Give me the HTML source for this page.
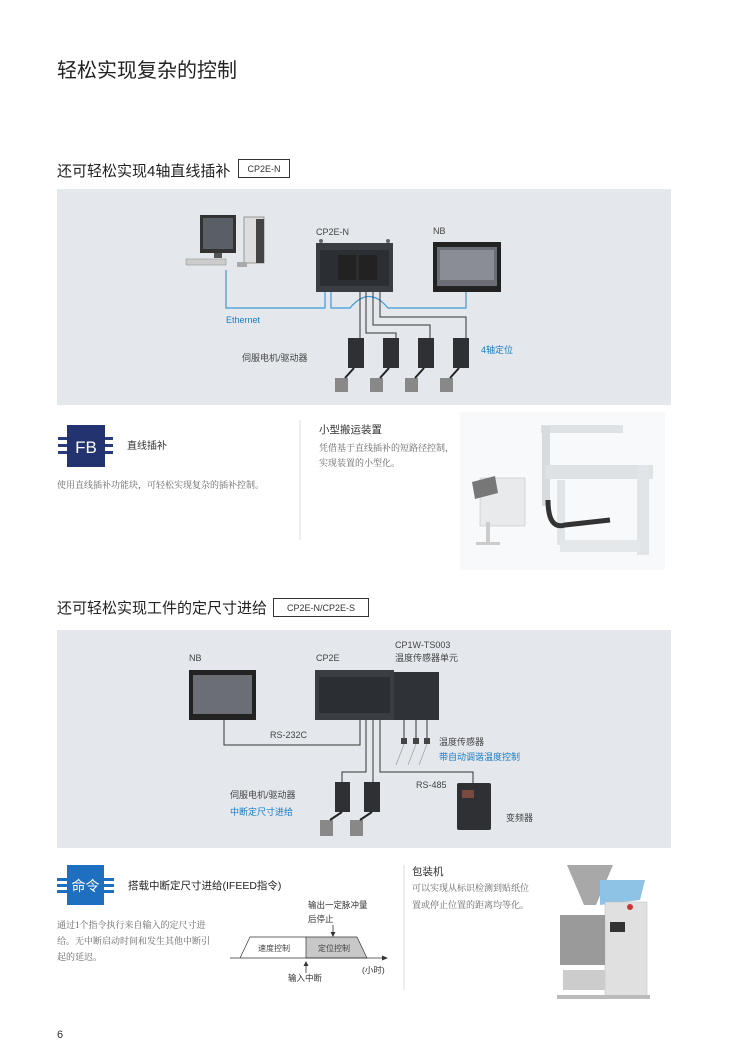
<!DOCTYPE html>
<html><head><meta charset="utf-8"><style>
html,body{margin:0;padding:0;background:#fff;}
svg{display:block;}
text{font-family:"Liberation Sans","Noto Sans CJK SC",sans-serif;}
.s{font-family:"Liberation Serif","Noto Serif CJK SC",serif;fill:#666;font-size:9px;}
.l{font-size:9px;fill:#444;}
.b{font-size:9px;fill:#1a7bc4;}
</style></head><body>
<svg width="750" height="1061" viewBox="0 0 750 1061" xmlns="http://www.w3.org/2000/svg">
<text x="57" y="77" font-size="20" fill="#222">轻松实现复杂的控制</text>

<!-- Section 1 -->
<text x="57" y="176" font-size="15" fill="#222">还可轻松实现4轴直线插补</text>
<rect x="238.5" y="159.5" width="51" height="18" fill="#fff" stroke="#333"/>
<text x="264" y="172" font-size="9" fill="#333" text-anchor="middle">CP2E-N</text>

<rect x="57" y="189" width="614" height="216" fill="#e4e8ec"/>
<!-- computer -->
<rect x="200" y="215" width="36" height="38" fill="#333"/>
<rect x="203" y="218" width="30" height="31" fill="#5a5f66"/>
<rect x="214" y="253" width="8" height="5" fill="#555"/>
<rect x="244" y="217" width="20" height="46" fill="#ddd" stroke="#777" stroke-width="0.7"/>
<rect x="256" y="219" width="8" height="44" fill="#444"/>
<rect x="186" y="259" width="40" height="6" fill="#ccc" stroke="#888" stroke-width="0.5"/>
<rect x="237" y="262" width="10" height="5" fill="#aaa"/>
<!-- PLC -->
<rect x="316" y="243" width="77" height="49" fill="#3a3d42"/>
<rect x="320" y="250" width="69" height="36" fill="#2b2e32"/>
<rect x="338" y="255" width="18" height="25" fill="#222"/>
<rect x="359" y="255" width="18" height="25" fill="#222"/>
<circle cx="321" cy="241" r="2" fill="#666"/><circle cx="388" cy="241" r="2" fill="#666"/>
<text x="316" y="235" class="l">CP2E-N</text>
<!-- NB -->
<rect x="433" y="242" width="68" height="50" fill="#222"/>
<rect x="437" y="247" width="60" height="39" fill="#6b6f75"/>
<rect x="440" y="250" width="54" height="30" fill="#8a8e94"/>
<text x="433" y="234" class="l">NB</text>
<!-- ethernet -->
<g fill="none" stroke="#3c9ad6" stroke-width="1.2">
<path d="M226 270 V308 H325 V292"/>
<path d="M331 292 V308 H350 Q369 285 388 308 H466 V292"/>
</g>
<text x="226" y="323" class="b">Ethernet</text>
<!-- black lines -->
<g fill="none" stroke="#333" stroke-width="1">
<path d="M360 292 V340"/>
<path d="M366 292 V333 H396 V340"/>
<path d="M373 292 V325 H430 V340"/>
<path d="M380 292 V317 H466 V340"/>
</g>
<g fill="#2e3034">
<rect x="348" y="338" width="16" height="30"/><rect x="383" y="338" width="16" height="30"/>
<rect x="418" y="338" width="16" height="30"/><rect x="453" y="338" width="16" height="30"/>
</g>
<g fill="#888">
<rect x="335" y="378" width="13" height="14"/><rect x="370" y="378" width="13" height="14"/>
<rect x="405" y="378" width="13" height="14"/><rect x="440" y="378" width="13" height="14"/>
</g>
<g stroke="#222" stroke-width="2" fill="none">
<path d="M354 368 L345 378"/><path d="M389 368 L380 378"/><path d="M424 368 L415 378"/><path d="M459 368 L450 378"/>
</g>
<text x="242" y="361" class="l">伺服电机/驱动器</text>
<text x="481" y="353" class="b">4轴定位</text>

<!-- FB block -->
<rect x="58" y="437" width="9" height="3" fill="#2a3b7a"/><rect x="58" y="444" width="9" height="3" fill="#2a3b7a"/><rect x="58" y="451" width="9" height="3" fill="#2a3b7a"/>
<rect x="105" y="437" width="8" height="3" fill="#2a3b7a"/><rect x="105" y="444" width="8" height="3" fill="#2a3b7a"/><rect x="105" y="451" width="8" height="3" fill="#2a3b7a"/>
<rect x="67" y="425" width="38" height="42" fill="#23336f"/>
<text x="86" y="453" font-size="17" fill="#fff" text-anchor="middle">FB</text>
<text x="127" y="449" font-size="10" fill="#333">直线插补</text>
<text x="57" y="488" class="s">使用直线插补功能块，可轻松实现复杂的插补控制。</text>
<line x1="300" y1="420" x2="300" y2="540" stroke="#ddd"/>
<text x="319" y="433" font-size="10.5" fill="#333">小型搬运装置</text>
<text x="319" y="451" class="s">凭借基于直线插补的短路径控制，</text>
<text x="319" y="466" class="s">实现装置的小型化。</text>
<!-- robot -->
<rect x="460" y="412" width="205" height="158" fill="#f8f9fa"/>
<rect x="541" y="425" width="82" height="8" fill="#dfe2e5"/>
<rect x="542" y="426" width="8" height="80" fill="#d8dbde"/>
<rect x="545" y="465" width="108" height="14" fill="#dfe2e5"/>
<rect x="637" y="465" width="12" height="90" fill="#e2e5e8"/>
<rect x="557" y="480" width="8" height="65" fill="#e2e5e8"/>
<rect x="560" y="540" width="80" height="12" fill="#e5e8eb"/>
<path d="M548 500 Q548 530 565 525 L610 520" stroke="#333" stroke-width="5" fill="none"/>
<rect x="480" y="478" width="45" height="48" fill="#e8eaec" stroke="#bbb" stroke-width="0.5"/>
<polygon points="472,482 495,476 498,493 475,499" fill="#777"/>
<rect x="486" y="522" width="4" height="22" fill="#ccc"/>
<rect x="476" y="542" width="24" height="3" fill="#ccc"/>

<!-- Section 2 -->
<text x="57" y="613" font-size="15" fill="#222">还可轻松实现工件的定尺寸进给</text>
<rect x="273.5" y="598.5" width="95" height="18" fill="#fff" stroke="#333"/>
<text x="321" y="611" font-size="9" fill="#333" text-anchor="middle">CP2E-N/CP2E-S</text>

<rect x="57" y="630" width="614" height="218" fill="#e4e8ec"/>
<text x="189" y="661" class="l">NB</text>
<text x="316" y="661" class="l">CP2E</text>
<text x="395" y="648" class="l">CP1W-TS003</text>
<text x="395" y="661" class="l">温度传感器单元</text>
<rect x="189" y="670" width="67" height="50" fill="#222"/>
<rect x="193" y="675" width="59" height="39" fill="#6b6f75"/>
<rect x="315" y="670" width="79" height="50" fill="#3a3d42"/>
<rect x="319" y="677" width="71" height="36" fill="#2b2e32"/>
<rect x="394" y="672" width="45" height="48" fill="#2f3236"/>
<g fill="none" stroke="#333" stroke-width="1">
<path d="M224 720 V745 H360 V720"/>
<path d="M366 720 V772 H342 V782"/>
<path d="M373 720 V782"/>
<path d="M380 720 V772 H473 V783"/>
<path d="M404 720 V740 M416 720 V740 M427 720 V740"/>
</g>
<g stroke="#999" stroke-width="0.7"><path d="M404 744 L396 765 M416 744 L408 765 M427 744 L419 765"/></g>
<g fill="#444"><rect x="401" y="738" width="6" height="6"/><rect x="413" y="738" width="6" height="6"/><rect x="424" y="738" width="6" height="6"/></g>
<text x="270" y="738" class="l">RS-232C</text>
<text x="439" y="745" class="l">温度传感器</text>
<text x="439" y="760" class="b">带自动调谐温度控制</text>
<text x="416" y="788" class="l">RS-485</text>
<rect x="335" y="782" width="15" height="30" fill="#2e3034"/>
<rect x="364" y="782" width="16" height="30" fill="#2e3034"/>
<rect x="320" y="820" width="13" height="16" fill="#888"/><rect x="350" y="820" width="13" height="16" fill="#888"/>
<path d="M342 812 L330 820 M372 812 L360 820" stroke="#222" stroke-width="2"/>
<rect x="457" y="783" width="34" height="47" fill="#2e3034" rx="2"/>
<rect x="462" y="790" width="12" height="8" fill="#7a4a40"/>
<text x="506" y="821" class="l">变频器</text>
<text x="230" y="798" class="l">伺服电机/驱动器</text>
<text x="230" y="815" class="b">中断定尺寸进给</text>

<!-- 命令 block -->
<rect x="57" y="878" width="10" height="3" fill="#1f6fc0"/><rect x="57" y="884" width="10" height="3" fill="#1f6fc0"/><rect x="57" y="890" width="10" height="3" fill="#1f6fc0"/>
<rect x="104" y="878" width="10" height="3" fill="#1f6fc0"/><rect x="104" y="884" width="10" height="3" fill="#1f6fc0"/><rect x="104" y="890" width="10" height="3" fill="#1f6fc0"/>
<rect x="67" y="865" width="37" height="40" fill="#1f6fc0"/>
<text x="85.5" y="891" font-size="14" fill="#fff" text-anchor="middle">命令</text>
<text x="128" y="889" font-size="10.5" fill="#222">搭载中断定尺寸进给(IFEED指令)</text>
<text x="57" y="928" class="s">通过1个指令执行来自输入的定尺寸进</text>
<text x="57" y="944" class="s">给。无中断启动时间和发生其他中断引</text>
<text x="57" y="960" class="s">起的延迟。</text>
<!-- chart -->
<path d="M306 937 H357 L367 958 H306 Z" fill="#c8c8c8" stroke="#333" stroke-width="0.7"/>
<path d="M240 958 L250 937 H306" fill="none" stroke="#333" stroke-width="0.7"/>
<line x1="230" y1="958" x2="385" y2="958" stroke="#333" stroke-width="0.8"/>
<path d="M388 958 L382 955.5 V960.5 Z" fill="#333"/>
<line x1="333" y1="925" x2="333" y2="934" stroke="#333" stroke-width="0.8"/>
<path d="M333 937 L330.5 932 H335.5 Z" fill="#333"/>
<line x1="306" y1="964" x2="306" y2="973" stroke="#333" stroke-width="0.8"/>
<path d="M306 961 L303.5 966 H308.5 Z" fill="#333"/>
<text x="258" y="951" font-size="8" fill="#444">速度控制</text>
<text x="318" y="951" font-size="8" fill="#444">定位控制</text>
<text x="308" y="908" font-size="8.5" fill="#333">输出一定脉冲量</text>
<text x="308" y="922" font-size="8.5" fill="#333">后停止</text>
<text x="288" y="981" font-size="8.5" fill="#333">输入中断</text>
<text x="362" y="973" font-size="8.5" fill="#333">(小时)</text>
<line x1="404" y1="865" x2="404" y2="990" stroke="#ddd"/>
<text x="412" y="875" font-size="10.5" fill="#333">包装机</text>
<text x="412" y="891" class="s">可以实现从标识检测到贴纸位</text>
<text x="412" y="908" class="s">置或停止位置的距离均等化。</text>
<!-- packaging machine -->
<path d="M567 865 H613 L596 905 H584 Z" fill="#a8a8a8"/>
<path d="M600 880 L645 880 L640 900 L600 905 Z" fill="#8fc3e6"/>
<rect x="605" y="902" width="42" height="95" fill="#e0e0e0" stroke="#bbb" stroke-width="0.5"/>
<rect x="560" y="915" width="45" height="50" fill="#9a9a9a"/>
<rect x="563" y="970" width="42" height="20" fill="#ccc"/>
<circle cx="630" cy="907" r="3" fill="#c33"/>
<rect x="610" y="922" width="15" height="10" fill="#333"/>
<rect x="557" y="995" width="93" height="4" fill="#bbb"/>

<text x="57" y="1038" font-size="11" fill="#333">6</text>
</svg>
</body></html>
